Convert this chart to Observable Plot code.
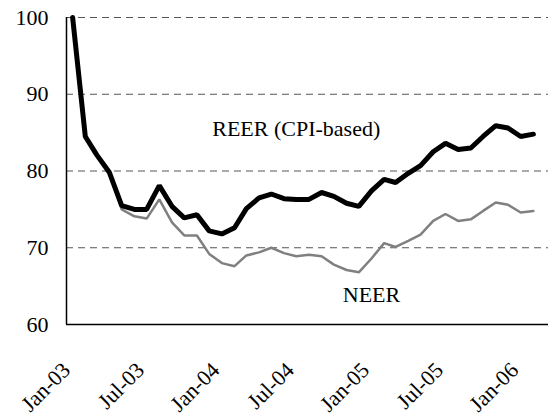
<!DOCTYPE html>
<html>
<head>
<meta charset="utf-8">
<script src="https://cdn.jsdelivr.net/npm/d3@7"></script>
<script src="https://cdn.jsdelivr.net/npm/@observablehq/plot@0.6"></script>
<style>
  html, body { margin: 0; padding: 0; background: #fff; }
  #chart svg { display: block; }
  #chart svg, #chart svg text {
    font-family: "Liberation Serif", "DejaVu Serif", "Times New Roman", Times, serif !important;
  }
</style>
</head>
<body>
<div id="chart"></div>
<script>
// Monthly observations, Jan-03 .. Feb-06
const months = [
  "2003-01","2003-02","2003-03","2003-04","2003-05","2003-06","2003-07","2003-08","2003-09","2003-10","2003-11","2003-12",
  "2004-01","2004-02","2004-03","2004-04","2004-05","2004-06","2004-07","2004-08","2004-09","2004-10","2004-11","2004-12",
  "2005-01","2005-02","2005-03","2005-04","2005-05","2005-06","2005-07","2005-08","2005-09","2005-10","2005-11","2005-12",
  "2006-01","2006-02"
];
const reer = [
  100.0, 84.5, 82.1, 79.8, 75.5, 75.0, 75.0, 78.1, 75.4, 73.9, 74.3, 72.2,
  71.8, 72.6, 75.1, 76.5, 77.0, 76.4, 76.3, 76.3, 77.2, 76.7, 75.8, 75.4,
  77.4, 78.9, 78.5, 79.7, 80.7, 82.5, 83.6, 82.8, 83.0, 84.5, 85.9, 85.6,
  84.5, 84.8
];
const neer = [
  100.0, 84.5, 82.1, 79.8, 75.0, 74.1, 73.8, 76.3, 73.3, 71.6, 71.6, 69.2,
  68.0, 67.6, 69.0, 69.4, 70.0, 69.3, 68.9, 69.1, 68.9, 67.8, 67.1, 66.8,
  68.6, 70.6, 70.1, 70.9, 71.7, 73.5, 74.4, 73.5, 73.7, 74.8, 75.9, 75.6,
  74.6, 74.8
];
const yTicks = [60, 70, 80, 90, 100];
const gridValues = [70, 80, 90, 100];
const xTickDates = ["2003-01","2003-07","2004-01","2004-07","2005-01","2005-07","2006-01"];
const labels = [
  {text: "REER (CPI-based)", date: "2004-07", value: 85.5},
  {text: "NEER", date: "2005-01", value: 63.8}
];

const parse = s => new Date(s + "-01T00:00:00Z");
const reerData = months.map((m, i) => ({date: parse(m), value: reer[i]}));
const neerData = months.map((m, i) => ({date: parse(m), value: neer[i]}));
const labelData = labels.map(d => ({...d, date: parse(d.date)}));
const xDomain = [new Date(Date.UTC(2002, 11, 17)), new Date(Date.UTC(2006, 2, 10))];
const serif = "Liberation Serif, DejaVu Serif, Times New Roman, Times, serif";

const chart = Plot.plot({
  width: 548,
  height: 416,
  marginLeft: 66,
  marginRight: 0,
  marginTop: 17,
  marginBottom: 92,
  style: {fontFamily: serif, fontSize: "21px", color: "#000", background: "#fff"},
  x: {type: "utc", domain: xDomain, label: null},
  y: {domain: [60, 100], label: null},
  marks: [
    Plot.ruleY(gridValues, {stroke: "#555", strokeWidth: 1, strokeDasharray: "7,5"}),
    Plot.axisY({ticks: yTicks, tickSize: 0, tickPadding: 18, fontSize: 22, fontFamily: serif, label: null}),
    Plot.axisX({
      ticks: xTickDates.map(parse),
      tickFormat: d3.utcFormat("%b-%y"),
      tickRotate: -45,
      tickSize: 0,
      tickPadding: 0,
      textAnchor: "end",
      dx: -6,
      dy: 42,
      fontSize: 22,
      fontFamily: serif,
      label: null
    }),
    Plot.line(neerData, {x: "date", y: "value", stroke: "#808080", strokeWidth: 2.5, strokeLinejoin: "miter"}),
    Plot.line(reerData, {x: "date", y: "value", stroke: "#000", strokeWidth: 5, strokeLinejoin: "miter"}),
    Plot.ruleX([xDomain[0]], {stroke: "#000", strokeWidth: 1.5}),
    Plot.ruleY([60], {stroke: "#000", strokeWidth: 1.5}),
    Plot.text(labelData, {x: "date", y: "value", text: "text", fontSize: 22, fontFamily: serif, fill: "#000"})
  ]
});
document.getElementById("chart").appendChild(chart);
</script>
</body>
</html>
